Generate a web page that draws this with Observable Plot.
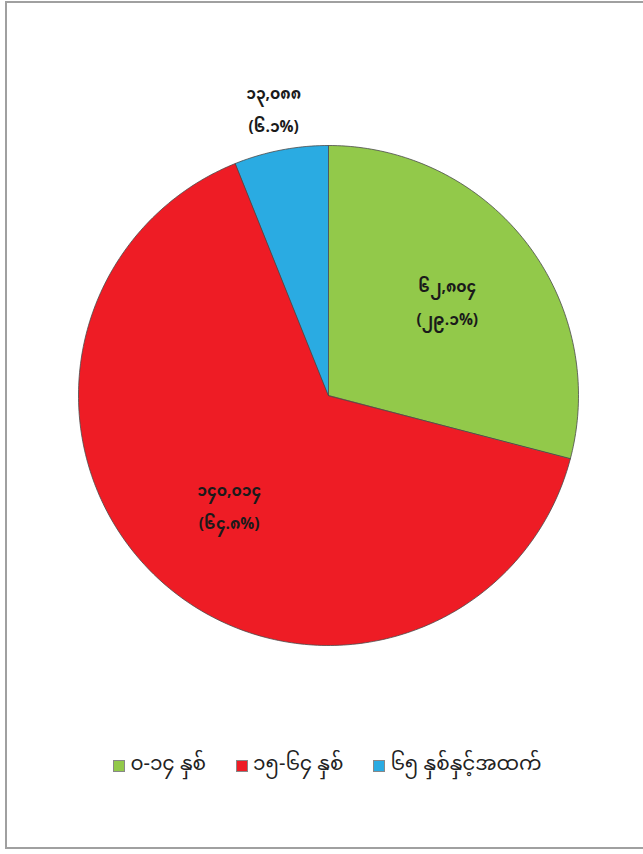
<!DOCTYPE html>
<html>
<head>
<meta charset="utf-8">
<script src="https://cdn.jsdelivr.net/npm/d3@7"></script>
<script src="https://cdn.jsdelivr.net/npm/@observablehq/plot@0.6"></script>
<style>
  html, body { margin: 0; padding: 0; background: #fff; }
  #page { position: relative; width: 643px; height: 854px; overflow: hidden; }
  #frame { position: absolute; left: 5px; top: 1px; width: 700px; height: 848px; border: 2px solid #a0a0a0; box-sizing: border-box; }
  #chart { position: absolute; left: 0; top: 0; }
  #legend { position: absolute; left: 0; top: 744px; width: 643px; display: flex; justify-content: center; gap: 30px;
    font-family: "Noto Sans Myanmar", "Padauk", "Myanmar Text", "Myanmar3", sans-serif; font-size: 20px; color: #222; padding-left: 12px; box-sizing: border-box; }
  .item { display: flex; align-items: center; gap: 5px; }
  .sw { width: 12px; height: 12px; border: 1px solid #888; box-sizing: border-box; }
</style>
</head>
<body>
<div id="page">
  <div id="frame"></div>
  <div id="chart"></div>
  <div id="legend"></div>
</div>
<script>
// Data
const categories = ["၀-၁၄ နှစ်", "၁၅-၆၄ နှစ်", "၆၅ နှစ်နှင့်အထက်"];
const values = [62804, 140014, 13088];
const valueLabels = ["၆၂,၈၀၄", "၁၄၀,၀၁၄", "၁၃,၀၈၈"];
const percentLabels = ["(၂၉.၁%)", "(၆၄.၈%)", "(၆.၁%)"];
const colors = ["#92c94a", "#ee1c25", "#2aabe2"];

const data = categories.map((c, i) => ({category: c, value: values[i], vlabel: valueLabels[i], plabel: percentLabels[i]}));
const arcs = d3.pie().sort(null).value(d => d.value)(data);
const total = d3.sum(values);

// Build slice polygons in unit-circle planar coords (y up)
function slicePolygon(a0, a1) {
  const pts = [[0, 0]];
  const n = Math.max(2, Math.ceil((a1 - a0) / (Math.PI / 180)));
  for (let k = 0; k <= n; k++) {
    const a = a0 + (a1 - a0) * k / n;
    pts.push([Math.sin(a), Math.cos(a)]);
  }
  pts.push([0, 0]);
  return pts.reverse();
}
const features = arcs.map(a => ({
  type: "Feature",
  properties: {category: a.data.category},
  geometry: {type: "Polygon", coordinates: [slicePolygon(a.startAngle, a.endAngle)]}
}));
const circle = {type: "Feature", geometry: {type: "Polygon", coordinates: [slicePolygon(0, 2 * Math.PI)]}};

const labels = arcs.map(a => {
  const mid = (a.startAngle + a.endAngle) / 2;
  const r = a.data.value / total < 0.1 ? 1.16 : 0.6;
  return {x: Math.sin(mid) * r, y: Math.cos(mid) * r, v: a.data.vlabel, p: a.data.plabel};
});

const font = "'Noto Sans Myanmar', Padauk, 'Myanmar Text', Myanmar3, sans-serif";
const W = 643, H = 740;
const chart = Plot.plot({
  width: W,
  height: H,
  marginLeft: 78,
  marginRight: 65,
  marginTop: 40,
  marginBottom: 95,
  projection: {type: "reflect-y", domain: circle, insetTop: 105},
  color: {domain: categories, range: colors},
  marks: [
    Plot.geo(features, {fill: d => d.properties.category, stroke: "#4a4a4a", strokeWidth: 0.8}),
    Plot.text(labels, {x: "x", y: "y", text: "v", dy: -17, fill: "#1a1a1a", fontSize: 15.5, fontWeight: "bold", fontFamily: font, clip: false}),
    Plot.text(labels, {x: "x", y: "y", text: "p", dy: 16, fill: "#1a1a1a", fontSize: 15.5, fontWeight: "bold", fontFamily: font, clip: false})
  ]
});
document.getElementById("chart").appendChild(chart);

const legend = document.getElementById("legend");
categories.forEach((c, i) => {
  const item = document.createElement("div");
  item.className = "item";
  const sw = document.createElement("div");
  sw.className = "sw";
  sw.style.background = colors[i];
  const t = document.createElement("span");
  t.textContent = c;
  item.appendChild(sw);
  item.appendChild(t);
  legend.appendChild(item);
});
</script>
</body>
</html>
